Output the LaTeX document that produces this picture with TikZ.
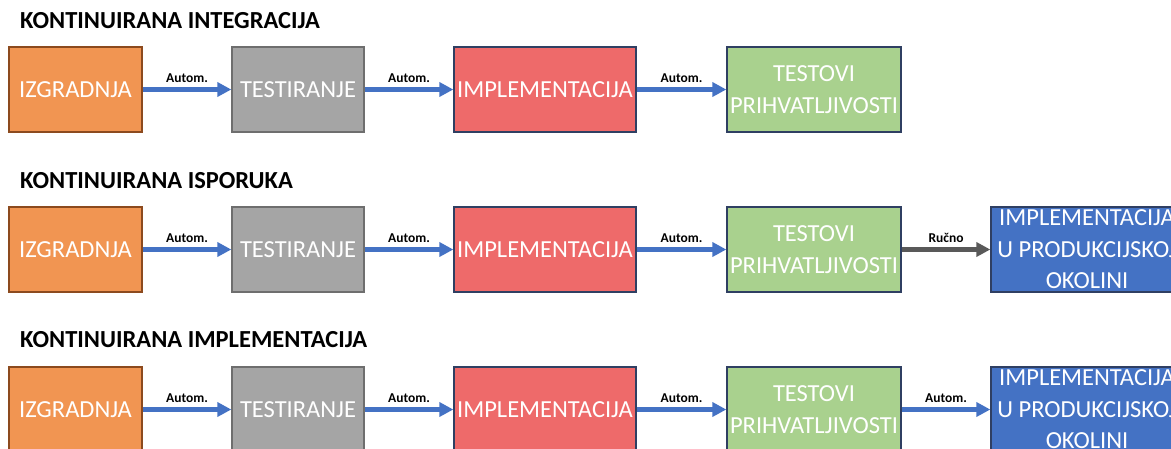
\documentclass[tikz,border=0pt]{standalone}
\usepackage{fontspec}
\setmainfont{Carlito}
\usepackage{xcolor}
\usepackage{tikz}
\usetikzlibrary{arrows.meta}

\definecolor{boxorange}{HTML}{F19552}
\definecolor{boxgray}{HTML}{A5A5A5}
\definecolor{boxred}{HTML}{EE6A6A}
\definecolor{boxgreen}{HTML}{A9D18E}
\definecolor{boxblue}{HTML}{4472C4}
\definecolor{edgeblue}{HTML}{4472C4}
\definecolor{edgegray}{HTML}{595959}
\definecolor{lineorange}{HTML}{8C4A1E}
\definecolor{linegray}{HTML}{6E6E6E}
\definecolor{linenavy}{HTML}{2F3F62}

\begin{document}
\begin{tikzpicture}[x=1pt, y=-1pt,
    stage/.style={draw, rectangle, line width=1.3pt, minimum height=85pt, inner sep=0pt,
        text=white, align=center, font=\fontsize{24.5}{31.5}\selectfont},
    title/.style={anchor=west, inner sep=0pt, font=\bfseries\fontsize{24.5}{29}\selectfont},
    auto/.style={draw=edgeblue, line width=4.3pt, -{Triangle[length=14pt, width=14pt]}},
    manual/.style={draw=edgegray, line width=4.3pt, -{Triangle[length=14pt, width=14pt]}},
    lab/.style={above=4.5pt, midway, inner sep=0pt, font=\bfseries\fontsize{13.5}{16}\selectfont}]
        \useasboundingbox (0,0) rectangle (1171,448);
        \clip (0,0) rectangle (1171,448);

        % continuous integration
        \node[title] (ci) at (20,21) {KONTINUIRANA INTEGRACIJA};
        \node[stage, fill=boxorange, draw=lineorange, minimum width=133pt] (izg1) at (75.5,89.5) {IZGRADNJA};
        \node[stage, fill=boxgray, draw=linegray, minimum width=132pt] (test1) at (298,89.5) {TESTIRANJE};
        \node[stage, fill=boxred, draw=linenavy, minimum width=182pt] (impl1) at (545,89.5) {IMPLEMENTACIJA};
        \node[stage, fill=boxgreen, draw=linenavy, minimum width=174pt] (prih1) at (814,89.5) {TESTOVI\\PRIHVATLJIVOSTI};

        \draw[auto] (izg1) -- (test1) node[lab] {Autom.};
        \draw[auto] (test1) -- (impl1) node[lab] {Autom.};
        \draw[auto] (impl1) -- (prih1) node[lab] {Autom.};

        % continuous delivery
        \node[title] (cd) at (20,181) {KONTINUIRANA ISPORUKA};
        \node[stage, fill=boxorange, draw=lineorange, minimum width=133pt] (izg2) at (75.5,249.5) {IZGRADNJA};
        \node[stage, fill=boxgray, draw=linegray, minimum width=132pt] (test2) at (298,249.5) {TESTIRANJE};
        \node[stage, fill=boxred, draw=linenavy, minimum width=182pt] (impl2) at (545,249.5) {IMPLEMENTACIJA};
        \node[stage, fill=boxgreen, draw=linenavy, minimum width=174pt] (prih2) at (814,249.5) {TESTOVI\\PRIHVATLJIVOSTI};
        \node[stage, fill=boxblue, draw=linenavy, minimum width=192pt] (prod2) at (1087,249.5) {IMPLEMENTACIJA\\U PRODUKCIJSKOJ\\OKOLINI};

        \draw[auto] (izg2) -- (test2) node[lab] {Autom.};
        \draw[auto] (test2) -- (impl2) node[lab] {Autom.};
        \draw[auto] (impl2) -- (prih2) node[lab] {Autom.};
        \draw[manual] (prih2) -- (prod2) node[lab] {Ručno};

        % continuous deployment
        \node[title] (cdp) at (20,340) {KONTINUIRANA IMPLEMENTACIJA};
        \node[stage, fill=boxorange, draw=lineorange, minimum width=133pt] (izg3) at (75.5,409.5) {IZGRADNJA};
        \node[stage, fill=boxgray, draw=linegray, minimum width=132pt] (test3) at (298,409.5) {TESTIRANJE};
        \node[stage, fill=boxred, draw=linenavy, minimum width=182pt] (impl3) at (545,409.5) {IMPLEMENTACIJA};
        \node[stage, fill=boxgreen, draw=linenavy, minimum width=174pt] (prih3) at (814,409.5) {TESTOVI\\PRIHVATLJIVOSTI};
        \node[stage, fill=boxblue, draw=linenavy, minimum width=192pt] (prod3) at (1087,409.5) {IMPLEMENTACIJA\\U PRODUKCIJSKOJ\\OKOLINI};

        \draw[auto] (izg3) -- (test3) node[lab] {Autom.};
        \draw[auto] (test3) -- (impl3) node[lab] {Autom.};
        \draw[auto] (impl3) -- (prih3) node[lab] {Autom.};
        \draw[auto] (prih3) -- (prod3) node[lab] {Autom.};
    \end{tikzpicture}
\end{document}
